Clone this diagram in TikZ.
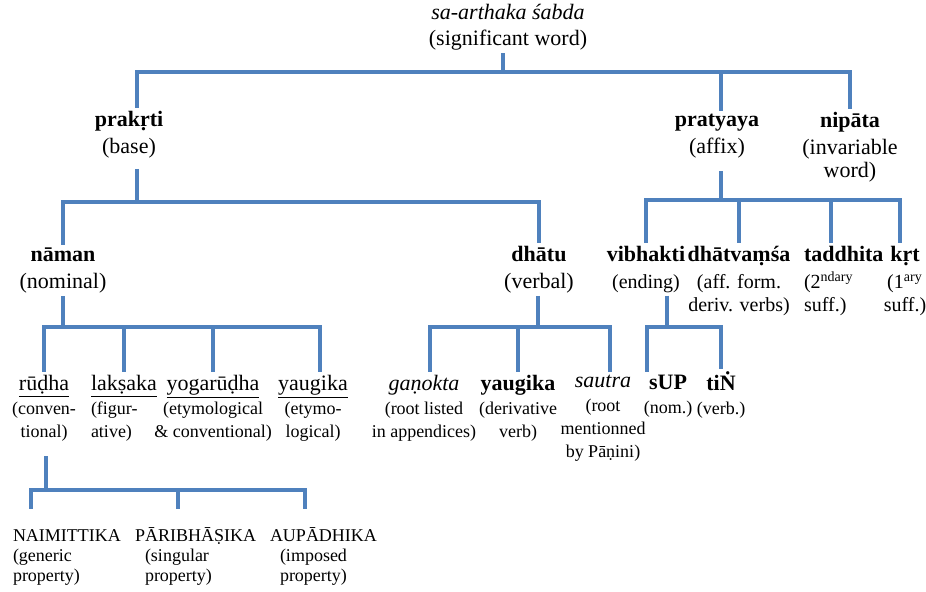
\documentclass[tikz,border=0pt]{standalone}
\usepackage{fontspec}
\setmainfont{Liberation Serif}

\definecolor{treeblue}{RGB}{79,129,189}
\newcommand{\glossa}[1]{{\fontsize{9}{11.5}\selectfont #1}}
\newcommand{\glossb}[1]{{\fontsize{10}{11.5}\selectfont #1}}

\begin{document}
\begin{tikzpicture}[x=0.5pt, y=-0.5pt,
    word/.style={anchor=north, align=center, inner sep=0pt, outer sep=1.5pt, font=\fontsize{11}{11.5}\selectfont},
    leftword/.style={word, anchor=north west, align=left},
    leaf/.style={leftword, font=\fontsize{9}{10}\selectfont},
    branch/.style={draw=treeblue, line width=2.2pt}]

    \useasboundingbox (0,0) rectangle (926,592);

    \node [word] (root) at (508,1) {\textit{sa-arthaka śabda}\\[1.5pt](significant word)};

    \node [word] (prakrti) at (129,108) {\textbf{prakṛti}\\[2pt](base)};
    \node [word] (pratyaya) at (717,111) {\textbf{pratyaya}\\[2pt](affix)};
    \node [word] (nipata) at (850,109) {\textbf{nipāta}\\[2pt](invariable\\word)};

    \node [word] (naman) at (63,245) {\textbf{nāman}\\[2pt](nominal)};
    \node [word] (dhatu) at (539,243) {\textbf{dhātu}\\[2pt](verbal)};
    \node [word] (vibhakti) at (646,243) {\textbf{vibhakti}\\[2pt]\glossb{(ending)}};
    \node [word] (dhatvamsa) at (739,243) {\textbf{dhātvaṃśa}\\[2pt]\glossb{(aff. form.}\\\glossb{deriv. verbs)}};
    \node [leftword] (taddhita) at (801,243) {\textbf{taddhita}\\[2pt]\glossb{(2\textsuperscript{ndary}}\\\glossb{suff.)}};
    \node [word] (krt) at (905,243) {\textbf{kṛt}\\[2pt]\glossb{(1\textsuperscript{ary}}\\\glossb{suff.)}};

    \node [word] (rudha) at (44,372) {\underline{rūḍha}\\[0.5pt]\glossa{(conven-}\\\glossa{tional)}};
    \node [leftword] (laksaka) at (88,372) {\underline{lakṣaka}\\[0.5pt]\glossa{(figur-}\\\glossa{ative)}};
    \node [word] (yogarudha) at (213,372) {\underline{yogarūḍha}\\[0.5pt]\glossa{(etymological}\\\glossa{\& conventional)}};
    \node [word] (yaugika) at (313,372) {\underline{yaugika}\\[0.5pt]\glossa{(etymo-}\\\glossa{logical)}};
    \node [word] (ganokta) at (424,372) {\textit{gaṇokta}\\[0.5pt]\glossa{(root listed}\\\glossa{in appendices)}};
    \node [word] (dhyaugika) at (518,372) {\textbf{yaugika}\\[0.5pt]\glossa{(derivative}\\\glossa{verb)}};
    \node [word] (sautra) at (603,372) {\textit{sautra}\\[0.5pt]\glossa{(root}\\\glossa{mentionned}\\\glossa{by Pāṇini)}};
    \node [word] (sup) at (668,372) {\textbf{sUP}\\[0.5pt]\glossa{(nom.)}};
    \node [word] (tin) at (721,369) {\textbf{tiṄ}\\[0.5pt]\glossa{(verb.)}};

    \node [leaf] (naimittika) at (10,527) {NAIMITTIKA\\(generic\\property)};
    \node [leaf] (paribhasika) at (132,525) {PĀRIBHĀṢIKA\\\hspace*{5pt}(singular\\\hspace*{5pt}property)};
    \node [leaf] (aupadhika) at (267,525) {AUPĀDHIKA\\\hspace*{5pt}(imposed\\\hspace*{5pt}property)};

    \coordinate (j0) at (503,72);
    \draw [branch] (root.south -| j0) -- (j0);
    \draw [branch] ([xshift=4pt]prakrti.north) |- (nipata.north |- j0) -- (nipata.north);
    \draw [branch] ([xshift=2pt]pratyaya.north) -- ([xshift=2pt]pratyaya.north |- j0);

    \coordinate (j1) at (137,202);
    \draw [branch, shorten <=4pt] (prakrti.south -| j1) -- (j1);
    \draw [branch] (naman.north) |- (dhatu.north |- j1) -- (dhatu.north);

    \coordinate (j2) at (721,200);
    \draw [branch, shorten <=5pt] (pratyaya.south -| j2) -- (j2);
    \draw [branch] (vibhakti.north) |- ([xshift=-2.5pt]krt.north |- j2) -- ([xshift=-2.5pt]krt.north);
    \draw [branch] (dhatvamsa.north) -- (dhatvamsa.north |- j2);
    \draw [branch] ([xshift=-6.25pt]taddhita.north) -- ([xshift=-6.25pt]taddhita.north |- j2);

    \coordinate (j3) at (63,327);
    \draw [branch] (naman.south -| j3) -- (j3);
    \draw [branch] (rudha.north) |- ([xshift=3.5pt]yaugika.north |- j3) -- ([xshift=3.5pt]yaugika.north);
    \draw [branch] (laksaka.north) -- (laksaka.north |- j3);
    \draw [branch] (yogarudha.north) -- (yogarudha.north |- j3);

    \coordinate (j4) at (538,327);
    \draw [branch] (dhatu.south -| j4) -- (j4);
    \draw [branch] ([xshift=3pt]ganokta.north) |- ([xshift=3.5pt]sautra.north |- j4) -- ([xshift=3.5pt]sautra.north);
    \draw [branch] (dhyaugika.north) -- (dhyaugika.north |- j4);

    \coordinate (j5) at (667,327);
    \draw [branch] (vibhakti.south -| j5) -- (j5);
    \draw [branch] ([xshift=-10.5pt]sup.north) |- (tin.north |- j5) -- (tin.north);

    \coordinate (j6) at (46,490);
    \draw [branch, shorten <=6pt] (rudha.south -| j6) -- (j6);
    \draw [branch, shorten <=9pt, shorten >=8pt] ([xshift=-18pt]naimittika.north) |- ([xshift=-9.25pt]aupadhika.north |- j6) -- ([xshift=-9.25pt]aupadhika.north);
    \draw [branch, shorten <=8pt] ([xshift=-8.75pt]paribhasika.north) -- ([xshift=-8.75pt]paribhasika.north |- j6);

\end{tikzpicture}
\end{document}
